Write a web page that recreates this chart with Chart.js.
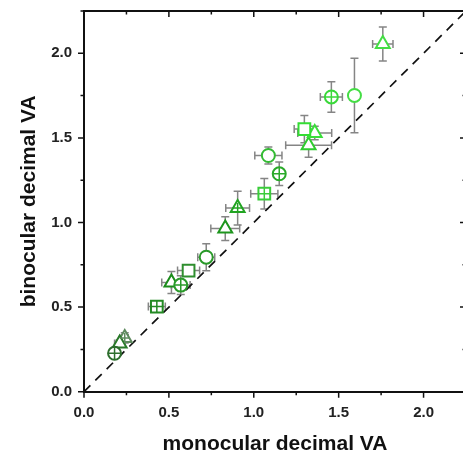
<!DOCTYPE html>
<html lang="en">
<head>
<meta charset="UTF-8">
<title>Binocular vs monocular decimal VA</title>
<script src="https://cdn.jsdelivr.net/npm/chart.js"></script>
<style>
  html, body { margin: 0; padding: 0; background: #fff; overflow: hidden; }
  canvas { display: block; }
</style>
</head>
<body>
<canvas id="chartVA" width="467" height="457"></canvas>
<script>
  // open circles
  const circleX    = [0.72, 1.086, 1.593];
  const circleY    = [0.795, 1.396, 1.751];
  const circleXErr = [0.05, 0.08, 0];
  const circleYErr = [0.08, 0.05, 0.22];

  // circles with cross
  const circCrossX    = [0.18, 0.57, 1.15, 1.457];
  const circCrossY    = [0.227, 0.63, 1.288, 1.742];
  const circCrossXErr = [0.02, 0.055, 0.02, 0.065];
  const circCrossYErr = [0.02, 0.055, 0.07, 0.09];

  // open squares
  const squareX    = [0.616, 1.298];
  const squareY    = [0.716, 1.552];
  const squareXErr = [0.065, 0.06];
  const squareYErr = [0.03, 0.08];

  // squares with cross
  const sqCrossX    = [0.429, 1.062];
  const sqCrossY    = [0.503, 1.17];
  const sqCrossXErr = [0.05, 0.08];
  const sqCrossYErr = [0.02, 0.09];

  // open triangles
  const triX    = [0.21, 0.515, 0.832, 1.323, 1.359, 1.76];
  const triY    = [0.285, 0.645, 0.964, 1.456, 1.529, 2.055];
  const triXErr = [0.03, 0.057, 0.085, 0.135, 0.1, 0.06];
  const triYErr = [0.02, 0.065, 0.07, 0.07, 0.04, 0.1];

  // triangles with cross
  const triCrossX    = [0.24, 0.905];
  const triCrossY    = [0.318, 1.085];
  const triCrossXErr = [0.02, 0.07];
  const triCrossYErr = [0.03, 0.1];

  // identity line
  const diagX = [0, 2.25];
  const diagY = [0, 2.25];

  // marker colours (per point)
  const circleCol    = ['#2a9a2a', '#33bb33', '#44dd44'];
  const circCrossCol = ['#2d6e2d', '#2a9a2a', '#2aaa2a', '#3ad83a'];
  const squareCol    = ['#2e8e2e', '#33dd33'];
  const sqCrossCol   = ['#248a24', '#3acc3a'];
  const triCol       = ['#2a7a2a', '#1a8c1a', '#1e961e', '#2fcc2f', '#3ade3a', '#44dd44'];
  const triCrossCol  = ['#5f8a5f', '#22a422'];

  const FONT = "'Liberation Sans', Arial, sans-serif";

  function pts(xs, ys) {
    return xs.map((x, i) => ({ x, y: ys[i] }));
  }

  function markerSet(xs, ys, ex, ey, cols, style, r) {
    return {
      type: 'scatter',
      data: pts(xs, ys),
      errX: ex,
      errY: ey,
      pointStyle: style,
      pointRadius: r,
      pointBorderWidth: 2,
      pointBorderColor: cols,
      pointBackgroundColor: '#fff',
      order: 2
    };
  }

  function crossSet(xs, ys, cols, r) {
    return {
      type: 'scatter',
      data: pts(xs, ys),
      pointStyle: 'cross',
      pointRadius: r,
      pointBorderWidth: 1.5,
      pointBorderColor: cols,
      order: 1
    };
  }

  // grey error bars with caps
  const errorBars = {
    id: 'errorBars',
    beforeDatasetsDraw(chart) {
      const { ctx, scales: { x, y } } = chart;
      const cap = 4;
      ctx.save();
      ctx.strokeStyle = '#858585';
      ctx.lineWidth = 1.5;
      chart.data.datasets.forEach(ds => {
        if (!ds.errX) return;
        ds.data.forEach((p, i) => {
          const cx = x.getPixelForValue(p.x);
          const cy = y.getPixelForValue(p.y);
          const ex = ds.errX[i], ey = ds.errY[i];
          ctx.beginPath();
          if (ex > 0) {
            const l = x.getPixelForValue(p.x - ex), r = x.getPixelForValue(p.x + ex);
            ctx.moveTo(l, cy); ctx.lineTo(r, cy);
            ctx.moveTo(l, cy - cap); ctx.lineTo(l, cy + cap);
            ctx.moveTo(r, cy - cap); ctx.lineTo(r, cy + cap);
          }
          if (ey > 0) {
            const t = y.getPixelForValue(p.y + ey), b = y.getPixelForValue(p.y - ey);
            ctx.moveTo(cx, t); ctx.lineTo(cx, b);
            ctx.moveTo(cx - cap, t); ctx.lineTo(cx + cap, t);
            ctx.moveTo(cx - cap, b); ctx.lineTo(cx + cap, b);
          }
          ctx.stroke();
        });
      });
      ctx.restore();
    }
  };

  // frame + ticks: outward on left/bottom, inward on top/right
  const frameTicks = {
    id: 'frameTicks',
    afterDraw(chart) {
      const { ctx, chartArea: a, scales: { x, y } } = chart;
      ctx.save();
      ctx.strokeStyle = '#111';
      ctx.lineWidth = 2;
      ctx.beginPath();
      ctx.moveTo(a.left, a.top); ctx.lineTo(a.right, a.top); ctx.lineTo(a.right, a.bottom);
      ctx.stroke();
      ctx.lineWidth = 1.5;
      ctx.beginPath();
      const isMajor = v => Math.abs(v * 2 - Math.round(v * 2)) < 1e-6;
      x.ticks.forEach(t => {
        const px = x.getPixelForValue(t.value);
        const len = isMajor(t.value) ? 6 : 3.5;
        ctx.moveTo(px, a.bottom); ctx.lineTo(px, a.bottom + len);
        ctx.moveTo(px, a.top); ctx.lineTo(px, a.top + len);
      });
      y.ticks.forEach(t => {
        const py = y.getPixelForValue(t.value);
        const len = isMajor(t.value) ? 6 : 3.5;
        ctx.moveTo(a.left, py); ctx.lineTo(a.left - len, py);
        ctx.moveTo(a.right, py); ctx.lineTo(a.right - len, py);
      });
      ctx.stroke();
      ctx.restore();
    }
  };

  const tickLabel = v => (Math.abs(v * 2 - Math.round(v * 2)) < 1e-6 && v <= 2.0) ? v.toFixed(1) : '';

  function noPad(scale) {
    scale.paddingTop = 0;
    scale.paddingBottom = 0;
    scale.paddingLeft = 0;
    scale.paddingRight = 0;
  }

  new Chart(document.getElementById('chartVA'), {
    data: {
      datasets: [
        {
          type: 'line',
          data: pts(diagX, diagY),
          borderColor: '#111',
          borderWidth: 1.7,
          borderDash: [9, 7],
          pointRadius: 0,
          order: 5
        },
        markerSet(circleX, circleY, circleXErr, circleYErr, circleCol, 'circle', 6.5),
        markerSet(circCrossX, circCrossY, circCrossXErr, circCrossYErr, circCrossCol, 'circle', 6.5),
        crossSet(circCrossX, circCrossY, circCrossCol, 6.5),
        markerSet(squareX, squareY, squareXErr, squareYErr, squareCol, 'rect', 8.3),
        markerSet(sqCrossX, sqCrossY, sqCrossXErr, sqCrossYErr, sqCrossCol, 'rect', 8.3),
        crossSet(sqCrossX, sqCrossY, sqCrossCol, 5.8),
        markerSet(triX, triY, triXErr, triYErr, triCol, 'triangle', 8),
        markerSet(triCrossX, triCrossY, triCrossXErr, triCrossYErr, triCrossCol, 'triangle', 8),
        crossSet(triCrossX, triCrossY, triCrossCol, 5)
      ]
    },
    options: {
      responsive: false,
      animation: false,
      layout: { autoPadding: false, padding: { top: 11, right: 1, left: 0, bottom: 0 } },
      plugins: { legend: { display: false }, tooltip: { enabled: false } },
      scales: {
        x: {
          type: 'linear',
          min: 0, max: 2.25,
          afterFit(scale) { scale.height = 65.3; noPad(scale); },
          grid: { display: false, drawTicks: false, tickLength: 0 },
          border: { display: true, color: '#111', width: 2 },
          ticks: {
            stepSize: 0.25, autoSkip: false, maxRotation: 0, padding: 12,
            color: '#222', font: { family: FONT, size: 15, weight: 'bold' },
            callback: tickLabel
          },
          title: {
            display: true, text: 'monocular decimal VA', color: '#111',
            font: { family: FONT, size: 21, weight: 'bold' },
            padding: { top: 0, bottom: 0.5 }
          }
        },
        y: {
          type: 'linear',
          min: 0, max: 2.25,
          afterFit(scale) { scale.width = 84; noPad(scale); },
          grid: { display: false, drawTicks: false, tickLength: 0 },
          border: { display: true, color: '#111', width: 2 },
          ticks: {
            stepSize: 0.25, autoSkip: false, padding: 12,
            color: '#222', font: { family: FONT, size: 15, weight: 'bold' },
            callback: tickLabel
          },
          title: {
            display: true, text: 'binocular decimal VA', color: '#111',
            font: { family: FONT, size: 21, weight: 'bold' },
            padding: { top: 16.5, bottom: 0 }
          }
        }
      }
    },
    plugins: [errorBars, frameTicks]
  });
</script>
</body>
</html>
